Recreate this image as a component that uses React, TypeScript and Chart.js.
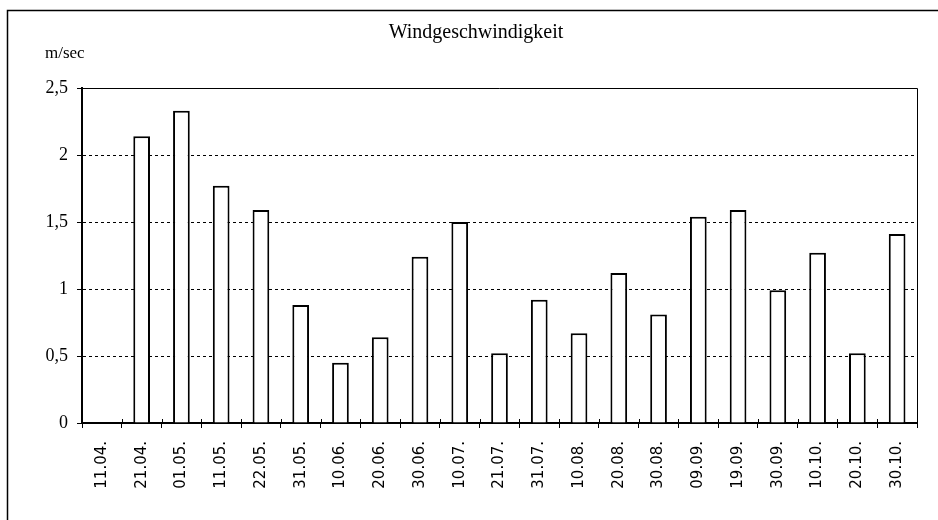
import React, { useEffect, useRef } from "react";
import { Chart, registerables } from "chart.js";

Chart.register(...registerables);

const categories = [
  "11.04.", "21.04.", "01.05.", "11.05.", "22.05.", "31.05.", "10.06.", "20.06.",
  "30.06.", "10.07.", "21.07.", "31.07.", "10.08.", "20.08.", "30.08.", "09.09.",
  "19.09.", "30.09.", "10.10.", "20.10.", "30.10.",
];

const windSpeed: (number | null)[] = [
  null, 2.14, 2.33, 1.77, 1.59, 0.88, 0.45, 0.64,
  1.24, 1.5, 0.52, 0.92, 0.67, 1.12, 0.81, 1.54,
  1.59, 0.99, 1.27, 0.52, 1.41,
];

const chartTitle = "Windgeschwindigkeit";
const unitLabel = "m/sec";
const yMin = 0;
const yMax = 2.5;
const yStep = 0.5;

const decoPlugin = {
  id: "deco",
  afterDraw(chart: any) {
    const { ctx, chartArea } = chart;
    ctx.save();
    // outer frame (left + top)
    ctx.strokeStyle = "#000";
    ctx.lineWidth = 1.5;
    ctx.beginPath();
    ctx.moveTo(7.5, 520);
    ctx.lineTo(7.5, 10.5);
    ctx.lineTo(938, 10.5);
    ctx.stroke();
    // plot border top + right
    ctx.lineWidth = 1;
    ctx.beginPath();
    ctx.moveTo(chartArea.left, Math.round(chartArea.top) + 0.5);
    ctx.lineTo(Math.round(chartArea.right) + 0.5, Math.round(chartArea.top) + 0.5);
    ctx.lineTo(Math.round(chartArea.right) + 0.5, chartArea.bottom);
    ctx.stroke();
    // x tick marks crossing the axis upward
    const xs = chart.scales.x;
    ctx.beginPath();
    for (let i = 0; i <= categories.length; i++) {
      const px = Math.round(xs.left + (i * (xs.right - xs.left)) / categories.length) + 0.5;
      ctx.moveTo(px, chartArea.bottom - 4);
      ctx.lineTo(px, chartArea.bottom);
    }
    ctx.stroke();
    // title
    ctx.fillStyle = "#000";
    ctx.font = "20px 'Liberation Serif', 'Times New Roman', serif";
    ctx.textAlign = "center";
    ctx.textBaseline = "alphabetic";
    ctx.fillText(chartTitle, 476, 38);
    // unit
    ctx.font = "17px 'Liberation Serif', 'Times New Roman', serif";
    ctx.textAlign = "left";
    ctx.fillText(unitLabel, 45, 58);
    ctx.restore();
  },
};

export default function App() {
  const canvasRef = useRef<HTMLCanvasElement | null>(null);

  useEffect(() => {
    document.body.style.margin = "0";
    const canvas = canvasRef.current;
    if (!canvas) return;
    const chart = new Chart(canvas, {
      type: "bar",
      data: {
        labels: categories,
        datasets: [
          {
            label: chartTitle,
            data: windSpeed,
            backgroundColor: "#fff",
            borderColor: "#000",
            borderWidth: 2,
            borderSkipped: "bottom",
            barPercentage: 0.42,
            categoryPercentage: 1,
          },
        ],
      },
      options: {
        animation: false,
        responsive: false,
        devicePixelRatio: 1,
        layout: { padding: { left: 0, top: 88, right: 21, bottom: 0 } },
        plugins: {
          legend: { display: false },
          tooltip: { enabled: false },
          title: { display: false },
        },
        scales: {
          x: {
            type: "category",
            offset: true,
            grid: {
              offset: true,
              drawOnChartArea: false,
              drawTicks: true,
              tickLength: 5,
              color: "#000",
              tickColor: "#000",
            },
            border: { display: true, color: "#000", width: 2 },
            ticks: {
              autoSkip: false,
              maxRotation: 90,
              minRotation: 90,
              padding: 13,
              color: "#000",
              font: { family: "'DejaVu Sans', sans-serif", size: 15 },
            },
            afterFit: (s: any) => {
              s.height = 97;
            },
          },
          y: {
            min: yMin,
            max: yMax,
            grid: {
              drawTicks: true,
              tickLength: 5,
              lineWidth: 1,
              tickColor: "#000",
              color: (c: any) =>
                c.tick && (c.tick.value === yMin || c.tick.value === yMax)
                  ? "rgba(0,0,0,0)"
                  : "#000",
            },
            border: { display: true, color: "#000", width: 2, dash: [3, 3] },
            ticks: {
              stepSize: yStep,
              padding: 9,
              color: "#000",
              font: { family: "'Liberation Serif', 'Times New Roman', serif", size: 18 },
              callback: (v: any) => String(v).replace(".", ","),
            },
            afterFit: (s: any) => {
              s.width = 82;
            },
          },
        },
      },
      plugins: [decoPlugin],
    });
    return () => chart.destroy();
  }, []);

  return (
    <div style={{ width: 938, height: 520, background: "#fff" }}>
      <canvas ref={canvasRef} width={938} height={520} style={{ display: "block" }} />
    </div>
  );
}
